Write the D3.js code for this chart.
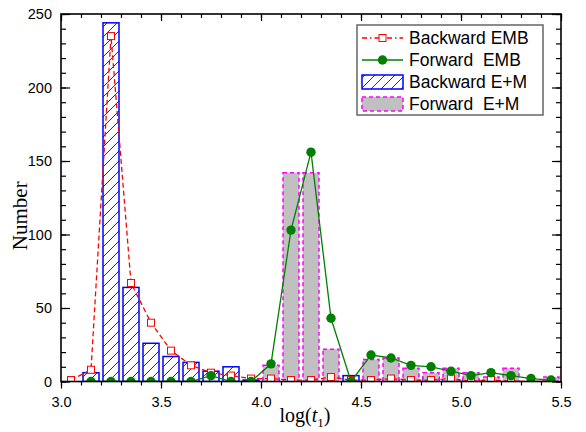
<!DOCTYPE html>
<html>
<head>
<meta charset="utf-8">
<script src="https://cdn.jsdelivr.net/npm/d3@7"></script>
<style>
  html, body { margin: 0; padding: 0; background: #fff; }
  svg { display: block; }
</style>
</head>
<body>
<svg id="chart" width="586" height="432"></svg>
<script>
// Bin centres of log(t1), shared by every series
const binCenters = [3.05, 3.15, 3.25, 3.35, 3.45, 3.55, 3.65, 3.75, 3.85, 3.95,
                    4.05, 4.15, 4.25, 4.35, 4.45, 4.55, 4.65, 4.75, 4.85, 4.95,
                    5.05, 5.15, 5.25, 5.35, 5.45];

// Backward E+M (hatched bars)
const backwardEM = [0, 6, 244, 64, 26, 17, 13, 7, 10, 1,
                    2, 0, 0, 0, 4, 1, 1, 1, 3, 1,
                    1, 0, 0, 0, 0];

// Forward E+M (grey bars)
const forwardEM = [0, 0, 0, 0, 0, 0, 0, 0, 0, 0,
                   11, 142, 142, 22, 0, 15, 16, 9, 6, 9,
                   6, 3, 9, 0, 3];

// Backward EMB (red dashed line, open squares)
const backwardEMB = [1, 8, 235, 67, 40, 21, 11, 6, 4, 2,
                     2, 1, 1, 3, 1, 1, 2, 1, 1, 2,
                     0, 1, 0, 0, 0];

// Forward EMB (green line, filled circles), starts at the second bin
const forwardEMBCenters = binCenters.slice(1);
const forwardEMB = [0, 0, 0, 0, 0, 0, 4, 0, 0,
                    12, 103, 156, 43, 0, 18, 16, 11, 10, 7,
                    4, 6, 4, 2, 1];

const xTicks = [3.0, 3.5, 4.0, 4.5, 5.0, 5.5];
const yTicks = [0, 50, 100, 150, 200, 250];

const legendLabels = ["Backward EMB", "Forward  EMB", "Backward E+M", "Forward  E+M"];

const svg = d3.select("#chart");
const plotLeft = 61, plotRight = 561, plotTop = 14, plotBottom = 381.5;

const x = d3.scaleLinear().domain([3.0, 5.5]).range([plotLeft, plotRight]);
const y = d3.scaleLinear().domain([0, 250]).range([plotBottom, plotTop]);

const BLUE = "#0000ff", RED = "#ff0000", GREEN = "#008000", MAG = "#ff00ff", GREY = "#c0c0c0";

const defs = svg.append("defs");
defs.append("clipPath").attr("id", "plotClip")
  .append("rect").attr("x", plotLeft).attr("y", plotTop)
  .attr("width", plotRight - plotLeft).attr("height", plotBottom - plotTop);

const hatch = defs.append("pattern").attr("id", "hatch")
  .attr("patternUnits", "userSpaceOnUse").attr("width", 10).attr("height", 10);
hatch.append("path")
  .attr("d", "M0,10 L10,0 M-2,2 L2,-2 M8,12 L12,8")
  .attr("stroke", BLUE).attr("stroke-width", 0.9).attr("fill", "none");

const plot = svg.append("g").attr("clip-path", "url(#plotClip)");
const barW = x(3.08) - x(3.0);

// Backward E+M bars
plot.append("g").selectAll("rect").data(backwardEM).join("rect")
  .attr("x", (d, i) => x(binCenters[i]) - barW / 2)
  .attr("y", d => y(d))
  .attr("width", barW)
  .attr("height", d => y(0) - y(d))
  .attr("fill", "url(#hatch)")
  .attr("stroke", BLUE).attr("stroke-width", 1.5);

// Forward E+M bars
plot.append("g").selectAll("rect").data(forwardEM).join("rect")
  .attr("x", (d, i) => x(binCenters[i]) - barW / 2)
  .attr("y", d => y(d))
  .attr("width", barW)
  .attr("height", d => y(0) - y(d))
  .attr("fill", GREY)
  .attr("stroke", MAG).attr("stroke-width", 1.5).attr("stroke-dasharray", "4,3");

// Backward EMB line + squares
const redLine = d3.line().x((d, i) => x(binCenters[i])).y(d => y(d));
plot.append("path").datum(backwardEMB)
  .attr("d", redLine)
  .attr("fill", "none").attr("stroke", RED).attr("stroke-width", 1.3)
  .attr("stroke-dasharray", "5,3");
plot.append("g").selectAll("rect").data(backwardEMB).join("rect")
  .attr("x", (d, i) => x(binCenters[i]) - 3.5)
  .attr("y", d => y(d) - 3.5)
  .attr("width", 7).attr("height", 7)
  .attr("fill", "#fff").attr("stroke", RED).attr("stroke-width", 1);

// Forward EMB line + circles
const greenLine = d3.line().x((d, i) => x(forwardEMBCenters[i])).y(d => y(d));
plot.append("path").datum(forwardEMB)
  .attr("d", greenLine)
  .attr("fill", "none").attr("stroke", GREEN).attr("stroke-width", 1.3);
plot.append("g").selectAll("circle").data(forwardEMB).join("circle")
  .attr("cx", (d, i) => x(forwardEMBCenters[i]))
  .attr("cy", d => y(d))
  .attr("r", 4.7)
  .attr("fill", GREEN);

// Axes
const minorX = d3.range(30, 56).map(v => v / 10);
const minorY = d3.range(0, 251, 10);
const axisFont = "'Liberation Sans', Arial, sans-serif";

svg.append("g").attr("transform", `translate(0,${plotBottom})`)
  .call(d3.axisBottom(x).tickValues(minorX).tickSize(4).tickFormat(""));
svg.append("g").attr("transform", `translate(0,${plotBottom})`)
  .call(d3.axisBottom(x).tickValues(xTicks).tickSize(7).tickPadding(8).tickFormat(d3.format(".1f")))
  .call(g => g.selectAll("text").attr("font-family", axisFont).attr("font-size", 14.5).attr("fill", "#000"));

svg.append("g").attr("transform", `translate(0,${plotTop})`)
  .call(d3.axisBottom(x).tickValues(minorX).tickSize(4).tickFormat(""));
svg.append("g").attr("transform", `translate(0,${plotTop})`)
  .call(d3.axisBottom(x).tickValues(xTicks).tickSize(7).tickFormat(""));

svg.append("g").attr("transform", `translate(${plotLeft},0)`)
  .call(d3.axisRight(y).tickValues(minorY).tickSize(5).tickFormat(""));
svg.append("g").attr("transform", `translate(${plotLeft},0)`)
  .call(d3.axisLeft(y).tickValues(yTicks).tickSize(0).tickPadding(9))
  .call(g => g.selectAll("text").attr("font-family", axisFont).attr("font-size", 14.5).attr("fill", "#000"));
svg.append("g").attr("transform", `translate(${plotLeft},0)`)
  .call(d3.axisRight(y).tickValues(yTicks).tickSize(9).tickFormat(""));

svg.append("g").attr("transform", `translate(${plotRight},0)`)
  .call(d3.axisLeft(y).tickValues(minorY).tickSize(5).tickFormat(""));
svg.append("g").attr("transform", `translate(${plotRight},0)`)
  .call(d3.axisLeft(y).tickValues(yTicks).tickSize(9).tickFormat(""));

svg.selectAll(".domain").remove();
svg.selectAll(".tick line").attr("stroke", "#000").attr("stroke-width", 1.2);

svg.append("rect").attr("x", plotLeft).attr("y", plotTop)
  .attr("width", plotRight - plotLeft).attr("height", plotBottom - plotTop)
  .attr("fill", "none").attr("stroke", "#000").attr("stroke-width", 1.6);

// Axis titles
svg.append("text")
  .attr("transform", `translate(27,${(plotTop + plotBottom) / 2 + 18}) rotate(-90)`)
  .attr("text-anchor", "middle")
  .attr("font-family", "'Liberation Serif', 'Times New Roman', serif")
  .attr("font-size", 21)
  .text("Number");

const xTitle = svg.append("text")
  .attr("x", (plotLeft + plotRight) / 2 - 6).attr("y", 422)
  .attr("text-anchor", "middle")
  .attr("font-family", "'Liberation Serif', 'Times New Roman', serif")
  .attr("font-size", 20);
xTitle.append("tspan").text("log(");
xTitle.append("tspan").attr("font-style", "italic").text("t");
xTitle.append("tspan").attr("font-size", 13).attr("dy", 5).text("1");
xTitle.append("tspan").attr("dy", -5).text(")");

// Legend
const lg = svg.append("g");
lg.append("rect").attr("x", 357).attr("y", 25).attr("width", 186).attr("height", 90)
  .attr("fill", "#fff").attr("stroke", "#666").attr("stroke-width", 1.5);
const rowY = [38, 60, 82, 104];
const symL = 362, symR = 403, symC = 382.5;

lg.append("line").attr("x1", symL).attr("x2", symR).attr("y1", rowY[0]).attr("y2", rowY[0])
  .attr("stroke", RED).attr("stroke-width", 1.3).attr("stroke-dasharray", "5,3,1.5,3");
lg.append("rect").attr("x", symC - 3.5).attr("y", rowY[0] - 3.5).attr("width", 7).attr("height", 7)
  .attr("fill", "#fff").attr("stroke", RED);

lg.append("line").attr("x1", symL).attr("x2", symR).attr("y1", rowY[1]).attr("y2", rowY[1])
  .attr("stroke", GREEN).attr("stroke-width", 1.3);
lg.append("circle").attr("cx", symC).attr("cy", rowY[1]).attr("r", 4.7).attr("fill", GREEN);

lg.append("rect").attr("x", symL).attr("y", rowY[2] - 7).attr("width", symR - symL).attr("height", 14)
  .attr("fill", "url(#hatch)").attr("stroke", BLUE).attr("stroke-width", 1.5);

lg.append("rect").attr("x", symL).attr("y", rowY[3] - 7).attr("width", symR - symL).attr("height", 14)
  .attr("fill", GREY).attr("stroke", MAG).attr("stroke-width", 1.5).attr("stroke-dasharray", "4,3");

lg.selectAll("text.lab").data(legendLabels).join("text")
  .attr("class", "lab")
  .attr("x", 409).attr("y", (d, i) => rowY[i] + 6)
  .attr("font-family", axisFont).attr("font-size", 17.5)
  .style("white-space", "pre")
  .text(d => d);
</script>
</body>
</html>
